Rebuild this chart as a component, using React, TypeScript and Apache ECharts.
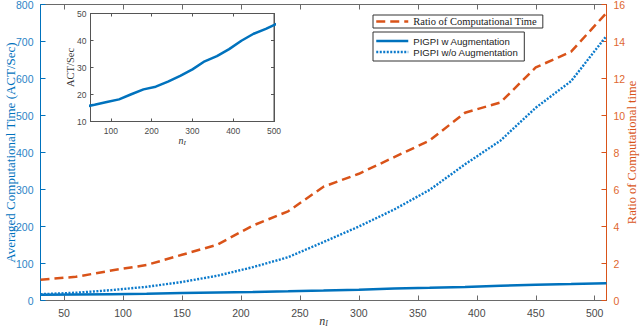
import React, { useEffect, useRef } from "react";
import * as echarts from "echarts";

const nValues = [30, 60, 90, 120, 150, 180, 210, 240, 270, 300, 330, 360, 390, 420, 450, 480, 510];
const withAug = [15.3, 16.2, 17.2, 18.2, 20.1, 21.9, 22.9, 24.8, 26.9, 29.3, 32.3, 34.2, 36.8, 39.9, 42.5, 44.3, 46.4];
const withoutAug = [17, 21, 28, 37, 50, 67, 90, 117, 158, 200, 246, 299, 368, 432, 521, 593, 715];
const ratio = [1.12, 1.28, 1.62, 1.92, 2.47, 3.02, 4.05, 4.82, 6.15, 6.85, 7.75, 8.65, 10.15, 10.7, 12.6, 13.45, 15.55];
const mainXTicks = [50, 100, 150, 200, 250, 300, 350, 400, 450, 500];
const insetXTicks = [100, 200, 300, 400, 500];

const BLUE = "#0072BD";
const ORANGE = "#D95319";
const GRAY = "#6a6a6a";
const LABEL_GRAY = "#4a4a4a";
const SANS = "'Liberation Sans', Arial, sans-serif";
const SERIF = "'Liberation Serif', 'Times New Roman', serif";

const pairs = (ys: number[]) => nValues.map((x, i) => [x, ys[i]]);

export default function App() {
  const ref = useRef<HTMLDivElement>(null);
  useEffect(() => {
    document.body.style.margin = "0";
    const chart = echarts.init(ref.current!, null, { renderer: "svg" });
    const nameRich = {
      n: { fontFamily: SERIF, fontStyle: "italic", fontSize: 12, color: "#333" },
      s: { fontFamily: SERIF, fontStyle: "italic", fontSize: 8, color: "#333", padding: [6, 0, 0, 0] },
    };
    const insetRich = {
      n: { fontFamily: SERIF, fontStyle: "italic", fontSize: 10, color: "#333" },
      s: { fontFamily: SERIF, fontStyle: "italic", fontSize: 7, color: "#333", padding: [5, 0, 0, 0] },
    };
    chart.setOption({
      animation: false,
      backgroundColor: "#fff",
      grid: [
        { left: 40.5, right: 33.5, top: 4.5, bottom: 30.5, show: false, outerBoundsMode: "none", containLabel: false },
        {
          left: 90.5, right: 366, top: 13.5, bottom: 209.5, show: true, outerBoundsMode: "none", containLabel: false,
          backgroundColor: "#fff", borderColor: "#555", borderWidth: 1, z: 5,
        },
      ],
      legend: [
        {
          data: ["Ratio of Computational Time"],
          left: 373, top: 15, orient: "vertical",
          padding: [1, 6, 1, 2], itemWidth: 32, itemHeight: 10,
          borderColor: "#333", borderWidth: 1, backgroundColor: "#fff",
          selectedMode: false,
          itemStyle: { opacity: 0 },
          lineStyle: { width: 2.5 },
          textStyle: { fontFamily: SERIF, fontSize: 10.5, color: "#222" },
        },
        {
          data: ["PIGPI w Augmentation", "PIGPI w/o Augmentation"],
          left: 373, top: 32, orient: "vertical",
          padding: [4, 6, 4, 2], itemWidth: 32, itemHeight: 10, itemGap: 1,
          borderColor: "#333", borderWidth: 1, backgroundColor: "#fff",
          selectedMode: false,
          itemStyle: { opacity: 0 },
          lineStyle: { width: 2.5 },
          textStyle: { fontFamily: SANS, fontSize: 9.6, color: "#222" },
        },
      ],
      xAxis: [
        {
          type: "value", gridIndex: 0, min: 30, max: 510, position: "bottom",
          name: "{n|n}{s|I}", nameLocation: "middle", nameGap: 13, nameMoveOverlap: false,
          nameTextStyle: { rich: nameRich },
          axisLine: { show: true, onZero: false, lineStyle: { color: GRAY, width: 1 } },
          axisTick: { show: true, inside: true, length: 5, customValues: mainXTicks, lineStyle: { color: GRAY } },
          axisLabel: { customValues: mainXTicks, margin: 7, fontFamily: SANS, fontSize: 10.5, color: LABEL_GRAY },
          splitLine: { show: false },
        },
        {
          type: "value", gridIndex: 0, min: 30, max: 510, position: "top",
          axisLine: { show: true, onZero: false, lineStyle: { color: GRAY, width: 1 } },
          axisTick: { show: true, inside: true, length: 5, customValues: mainXTicks, lineStyle: { color: GRAY } },
          axisLabel: { show: false },
          splitLine: { show: false },
        },
        {
          type: "value", gridIndex: 1, min: 50, max: 500, position: "bottom", z: 6,
          name: "{n|n}{s|I}", nameLocation: "middle", nameGap: 13, nameMoveOverlap: false,
          nameTextStyle: { rich: insetRich },
          axisLine: { show: true, onZero: false, lineStyle: { color: "#555", width: 1 } },
          axisTick: { show: true, inside: true, length: 3, customValues: insetXTicks, lineStyle: { color: "#555" } },
          axisLabel: { customValues: insetXTicks, margin: 5, fontFamily: SANS, fontSize: 8.5, color: LABEL_GRAY },
          splitLine: { show: false },
        },
        {
          type: "value", gridIndex: 1, min: 50, max: 500, position: "top", z: 6,
          axisLine: { show: true, onZero: false, lineStyle: { color: "#555", width: 1 } },
          axisTick: { show: true, inside: true, length: 3, customValues: insetXTicks, lineStyle: { color: "#555" } },
          axisLabel: { show: false },
          splitLine: { show: false },
        },
      ],
      yAxis: [
        {
          type: "value", gridIndex: 0, min: 0, max: 800, interval: 100, position: "left",
          name: "Averaged Computational Time (ACT/Sec)", nameLocation: "middle", nameRotate: 90, nameGap: 24,
          nameMoveOverlap: false,
          nameTextStyle: { fontFamily: SERIF, fontSize: 13, color: BLUE },
          axisLine: { show: true, onZero: false, lineStyle: { color: BLUE, width: 1 } },
          axisTick: { show: true, inside: true, length: 5, lineStyle: { color: BLUE } },
          axisLabel: { margin: 7, fontFamily: SANS, fontSize: 10.5, color: "#2a84c6" },
          splitLine: { show: false },
        },
        {
          type: "value", gridIndex: 0, min: 0, max: 16, interval: 2, position: "right",
          name: "Ratio of Computational time", nameLocation: "middle", nameRotate: 90, nameGap: 19,
          nameMoveOverlap: false,
          nameTextStyle: { fontFamily: SERIF, fontSize: 12.5, color: ORANGE },
          axisLine: { show: true, onZero: false, lineStyle: { color: ORANGE, width: 1 } },
          axisTick: { show: true, inside: true, length: 5, lineStyle: { color: ORANGE } },
          axisLabel: { margin: 7, fontFamily: SANS, fontSize: 10.5, color: "#e0672f" },
          splitLine: { show: false },
        },
        {
          type: "value", gridIndex: 1, min: 10, max: 50, interval: 10, position: "left", z: 6,
          name: "ACT/Sec", nameLocation: "middle", nameRotate: 90, nameGap: 15, nameMoveOverlap: false,
          nameTextStyle: { fontFamily: SERIF, fontSize: 10.5, color: "#333" },
          axisLine: { show: true, onZero: false, lineStyle: { color: "#555", width: 1 } },
          axisTick: { show: true, inside: true, length: 3, lineStyle: { color: "#555" } },
          axisLabel: { margin: 4, fontFamily: SANS, fontSize: 8.5, color: LABEL_GRAY },
          splitLine: { show: false },
        },
        {
          type: "value", gridIndex: 1, min: 10, max: 50, interval: 10, position: "right", z: 6,
          axisLine: { show: true, onZero: false, lineStyle: { color: "#555", width: 1 } },
          axisTick: { show: true, inside: true, length: 3, lineStyle: { color: "#555" } },
          axisLabel: { show: false },
          splitLine: { show: false },
        },
      ],
      series: [
        {
          name: "Ratio of Computational Time", type: "line", xAxisIndex: 0, yAxisIndex: 1,
          data: pairs(ratio), symbol: "none", showSymbol: false, color: ORANGE,
          lineStyle: { color: ORANGE, width: 2.5, type: [9, 5] },
        },
        {
          name: "PIGPI w Augmentation", type: "line", xAxisIndex: 0, yAxisIndex: 0,
          data: pairs(withAug), symbol: "none", showSymbol: false, color: BLUE,
          lineStyle: { color: BLUE, width: 2.5, type: "solid" },
        },
        {
          name: "PIGPI w/o Augmentation", type: "line", xAxisIndex: 0, yAxisIndex: 0,
          data: pairs(withoutAug), symbol: "none", showSymbol: false, color: BLUE,
          lineStyle: { color: "#0b7acb", width: 2.4, type: [2, 1.5] },
        },
        {
          name: "inset", type: "line", xAxisIndex: 2, yAxisIndex: 2, z: 7,
          data: pairs(withAug), symbol: "none", color: BLUE, clip: true,
          lineStyle: { color: BLUE, width: 2.5, type: "solid" },
        },
      ],
    });
    return () => chart.dispose();
  }, []);
  return <div ref={ref} style={{ width: 640, height: 331 }} />;
}
